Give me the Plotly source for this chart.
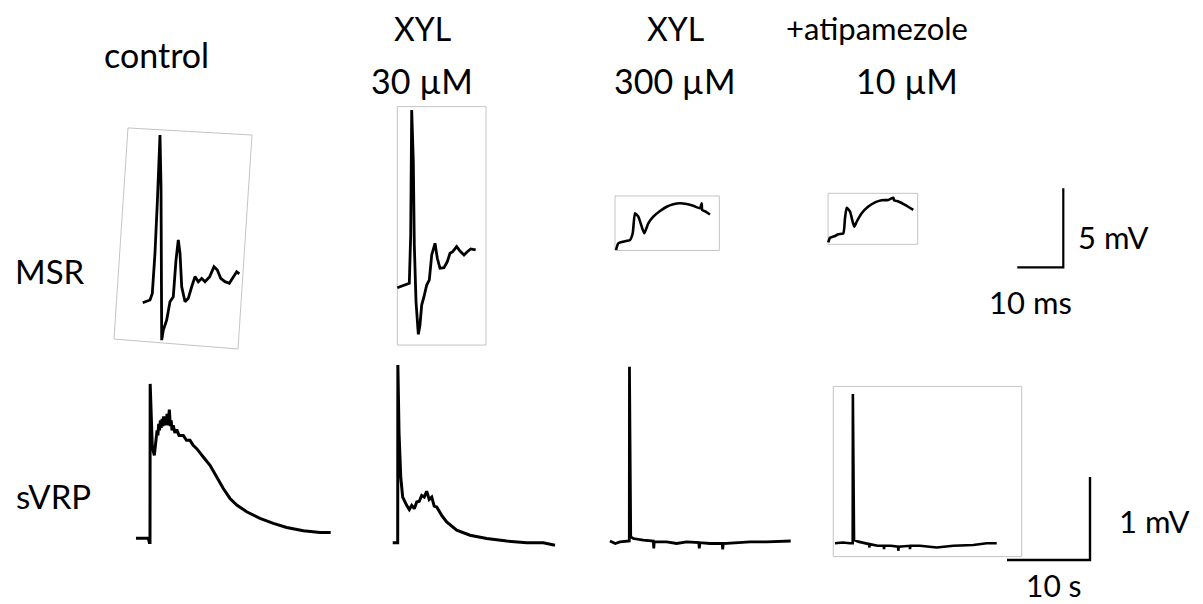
import plotly.graph_objects as go

W, H = 1203, 604

# ---------------- data (MSR: time ms, voltage mV) ----------------
msr_ctrl_t = [0, 1.59, 2.09, 2.67, 3.17, 3.76, 3.98, 3.98, 4.13, 4.48, 5.22, 5.93, 6.65, 7.24, 7.74, 8.11, 8.48,
              9.20, 9.91, 10.65, 11.37, 12.09, 12.83, 13.54, 14.57, 15.5, 16.22, 16.96, 17.89, 18.83, 19.70, 20.43, 21.0]
msr_ctrl_v = [0, 0.17, 0.59, 3.13, 6.29, 10.61, 7.34, 3.15, -2.37, -1.73, -1.09, 0.06, 0.38, 2.70, 3.97, 3.13, 1.01,
              0.06, 0.28, 1.01, 1.65, 1.33, 1.54, 1.33, 1.65, 2.28, 2.07, 1.54, 1.33, 1.23, 1.65, 1.96, 1.82]

msr_x30_t = [0, 1.30, 2.61, 2.91, 3.13, 3.48, 3.70, 4.07, 4.57, 4.93, 5.30, 5.80, 6.39, 6.96, 7.48, 8.20, 8.70,
             9.28, 10.15, 10.87, 11.46, 12.04, 12.91, 13.63, 14.50, 15.22, 15.96, 17.04]
msr_x30_v = [0, 0.13, 0.28, 3.34, 11.25, 7.98, 2.70, -0.89, -2.95, -2.36, -1.10, -0.57, 0.17, 0.49, 2.07, 2.81, 1.86,
             1.23, 1.27, 1.65, 2.18, 2.28, 2.60, 2.32, 2.07, 2.28, 2.45, 2.39]

msr_x300_t = [0, 0.5, 1.59, 3.04, 3.63, 4.13, 4.85, 5.59, 6.15, 7.02, 8.11, 9.57, 11.02, 12.46, 13.91, 15.37,
              16.80, 18.26, 18.63, 18.75, 19.57, 20.43]
msr_x300_v = [0, 0.42, 0.53, 0.63, 1.06, 2.32, 2.11, 1.48, 1.06, 1.69, 2.11, 2.47, 2.74, 2.89, 2.96, 2.91,
              2.80, 2.64, 2.96, 2.53, 2.42, 2.25]

msr_atip_t = [0, 0.37, 1.46, 2.17, 3.26, 3.63, 4.0, 4.72, 5.30, 5.65, 6.17, 7.26, 8.70, 10.15, 11.61, 13.04,
              14.13, 14.3, 15.22, 16.67, 18.48]
msr_atip_v = [0, 0.29, 0.40, 0.51, 0.57, 1.52, 2.19, 1.94, 1.30, 0.99, 1.30, 1.84, 2.26, 2.53, 2.66, 2.68,
              2.82, 2.66, 2.58, 2.37, 2.05]

# ---------------- data (sVRP: time s, voltage mV) ----------------
svrp_ctrl_t = [-1.69, -0.20, -0.08, 0.0, 0.02, 0.28, 0.52, 0.72, 0.85, 0.95, 1.05, 1.15, 1.25, 1.35, 1.45, 1.55,
               1.65, 1.75, 1.85, 1.95, 2.05, 2.15, 2.25, 2.33, 2.45, 2.55, 2.65, 2.8, 3.0, 3.22, 3.5, 4.01, 4.4,
               4.82, 5.2, 5.63, 6.42, 7.23, 8.04, 8.83, 9.64, 10.45, 11.65, 13.25, 14.86, 16.47, 18.47, 20.48, 21.77]
svrp_ctrl_v = [0, 0, -0.05, -0.05, 1.86, 1.10, 1.00, 1.18, 1.30, 1.24, 1.38, 1.30, 1.42, 1.33, 1.44, 1.35,
               1.47, 1.36, 1.45, 1.37, 1.50, 1.36, 1.52, 1.55, 1.35, 1.42, 1.30, 1.36, 1.27, 1.31, 1.24, 1.24, 1.18,
               1.18, 1.12, 1.08, 0.98, 0.88, 0.74, 0.60, 0.48, 0.40, 0.32, 0.24, 0.18, 0.13, 0.09, 0.07, 0.07]

svrp_x30_t = [-0.60, -0.12, 0, 0.02, 0.16, 0.36, 0.60, 1.08, 1.4, 1.69, 2.0, 2.29, 2.6, 2.89, 3.2, 3.49, 3.8,
              4.10, 4.4, 4.70, 5.30, 5.90, 7.11, 8.71, 10.72, 13.13, 15.54, 17.54, 18.95]
svrp_x30_v = [0, 0, 0, 2.14, 1.32, 0.80, 0.55, 0.45, 0.40, 0.45, 0.41, 0.49, 0.50, 0.57, 0.55, 0.62, 0.52,
              0.55, 0.44, 0.43, 0.33, 0.25, 0.15, 0.09, 0.05, 0.02, 0, 0, -0.03]

svrp_x300_t = [-2.33, -1.7, -1.12, -0.07, 0, 0.02, 0.17, 0.48, 1.69, 2.89, 2.95, 3.0, 4.51, 5.71, 6.92, 8.38,
               8.43, 8.5, 9.72, 11.2, 11.25, 11.32, 12.53, 14.54, 16.55, 18.16, 19.45]
svrp_x300_v = [0, -0.03, -0.01, 0, 0, 2.10, 0.05, 0.03, 0.01, 0, -0.09, -0.01, -0.01, -0.03, -0.01, -0.02,
               -0.09, -0.02, -0.03, -0.03, -0.10, -0.03, -0.02, -0.01, -0.01, 0, 0]

svrp_atip_t = [-2.13, -1.2, -0.33, -0.02, 0, 0.02, 0.16, 0.67, 1.69, 1.98, 2.0, 2.06, 3.0, 3.75, 3.77, 3.82,
               4.6, 5.47, 5.49, 5.55, 6.88, 6.90, 6.95, 8.11, 10.12, 12.12, 14.53, 16.14, 17.35]
svrp_atip_v = [0, 0.01, 0, 0, 0, 1.80, 0.04, 0.02, 0, -0.01, -0.05, -0.01, -0.03, -0.03, -0.07, -0.03,
               -0.03, -0.04, -0.09, -0.04, -0.03, -0.07, -0.03, -0.03, -0.05, -0.03, -0.02, 0, 0]

# frames around cropped recordings (corners in trace units)
frame_ctrl_t = [-3.2, 23.76, 20.72, -6.24, -3.2]
frame_ctrl_v = [11.06, 10.61, -2.93, -2.30, 11.06]
frame_x30_t = [0, 19.28, 19.28, 0, 0]
frame_x30_v = [11.46, 11.46, -3.63, -3.63, 11.46]
frame_x300_t = [-0.22, 22.46, 22.46, -0.22, -0.22]
frame_x300_v = [3.42, 3.42, -0.03, -0.03, 3.42]
frame_atip_t = [-0.05, 19.43, 19.43, -0.05, -0.05]
frame_atip_v = [3.10, 3.10, -0.13, -0.13, 3.10]
frame_satip_t = [-2.34, 20.36, 20.36, -2.34, -2.34]
frame_satip_v = [1.89, 1.89, -0.16, -0.16, 1.89]

# scale bars
msr_bar_ms, msr_bar_mv = 10, 5
svrp_bar_s, svrp_bar_mv = 10, 1

column_titles = ["control", "XYL", "30 µM", "XYL", "300 µM", "+atipamezole", "10 µM"]
row_labels = ["MSR", "sVRP"]

# ---------------- layout helpers (pixel placement) ----------------
MSR_S = (4.6, 15.8)   # px per ms, px per mV
SVRP_S = (8.3, 83.0)  # px per s, px per mV

panels = [
    dict(t=msr_ctrl_t, v=msr_ctrl_v, o=(142.7, 302.7), s=MSR_S, ft=frame_ctrl_t, fv=frame_ctrl_v, w=2.8),
    dict(t=msr_x30_t, v=msr_x30_v, o=(397.3, 287.7), s=MSR_S, ft=frame_x30_t, fv=frame_x30_v, w=2.8),
    dict(t=msr_x300_t, v=msr_x300_v, o=(616.0, 250.0), s=MSR_S, ft=frame_x300_t, fv=frame_x300_v, w=2.6, sp=True),
    dict(t=msr_atip_t, v=msr_atip_v, o=(828.3, 242.3), s=MSR_S, ft=frame_atip_t, fv=frame_atip_v, w=2.6, sp=True),
    dict(t=[-msr_bar_ms, 0, 0], v=[0, 0, msr_bar_mv], o=(1063.3, 267.3), s=MSR_S, w=2.2),
    dict(t=svrp_ctrl_t, v=svrp_ctrl_v, o=(150.0, 538.3), s=SVRP_S, w=3.0),
    dict(t=svrp_x30_t, v=svrp_x30_v, o=(397.7, 542.7), s=SVRP_S, w=3.0),
    dict(t=svrp_x300_t, v=svrp_x300_v, o=(629.3, 541.0), s=SVRP_S, w=2.8),
    dict(t=svrp_atip_t, v=svrp_atip_v, o=(852.7, 543.3), s=SVRP_S, ft=frame_satip_t, fv=frame_satip_v, w=2.6),
    dict(t=[-svrp_bar_s, 0, 0], v=[0, 0, svrp_bar_mv], o=(1090.0, 560.0), s=SVRP_S, w=2.4),
]

fig = go.Figure()
lay = {}
for i, p in enumerate(panels, start=1):
    sfx = "" if i == 1 else str(i)
    xa, ya = "x" + sfx, "y" + sfx
    ox, oy = p["o"]
    sx, sy = p["s"]
    if "ft" in p:
        fig.add_trace(go.Scatter(x=p["ft"], y=p["fv"], mode="lines",
                                 line=dict(color="#c4c4c4", width=1),
                                 xaxis=xa, yaxis=ya, hoverinfo="skip", showlegend=False))
    line = dict(color="#000000", width=p["w"])
    if p.get("sp"):
        line.update(shape="spline", smoothing=0.5)
    fig.add_trace(go.Scatter(x=p["t"], y=p["v"], mode="lines", line=line,
                             xaxis=xa, yaxis=ya, hoverinfo="skip", showlegend=False))
    lay["xaxis" + sfx] = dict(domain=[0, 1], range=[-ox / sx, (W - ox) / sx], visible=False,
                              fixedrange=True, anchor=ya)
    lay["yaxis" + sfx] = dict(domain=[0, 1], range=[(oy - H) / sy, oy / sy], visible=False,
                              fixedrange=True, anchor=xa)

FAMILY = "Lato, 'Open Sans', sans-serif"

def ann(text, px, py, size=31, xanchor="center"):
    return dict(text=text, x=px / W, y=1 - py / H, xref="paper", yref="paper",
                xanchor=xanchor, yanchor="middle", showarrow=False,
                font=dict(family=FAMILY, size=size, color="#000000"), align="center")

annotations = [
    ann(column_titles[0], 156, 54, 34),
    ann(column_titles[1], 422, 28, 32), ann(column_titles[2], 422, 81, 34),
    ann(column_titles[3], 675, 28, 32), ann(column_titles[4], 675, 81, 34),
    ann(column_titles[5], 877, 28, 31), ann(column_titles[6], 907, 81, 34),
    ann(row_labels[0], 50, 271, 33),
    ann(row_labels[1], 53, 496, 33),
    ann(f"{msr_bar_mv} mV", 1076, 237, 31, "left"),
    ann(f"{msr_bar_ms} ms", 1030, 302, 31),
    ann(f"{svrp_bar_mv} mV", 1117, 521, 31, "left"),
    ann(f"{svrp_bar_s} s", 1053, 585, 30),
]

fig.update_layout(width=W, height=H, margin=dict(l=0, r=0, t=0, b=0),
                  paper_bgcolor="white", plot_bgcolor="rgba(0,0,0,0)",
                  showlegend=False, annotations=annotations, **lay)

fig.write_html("out.html", config={"displayModeBar": False, "staticPlot": True},
               post_script="document.body.style.margin='0';document.body.style.overflow='hidden';")
